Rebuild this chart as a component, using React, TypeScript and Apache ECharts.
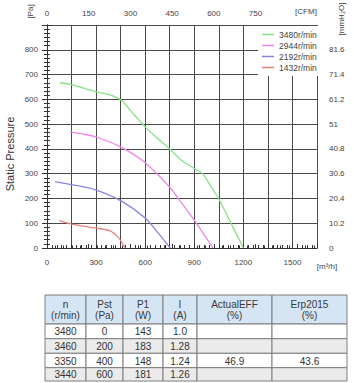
import React, { useEffect, useRef } from 'react';
import * as echarts from 'echarts';

// ---- chart data ----
const speedNames = ['3480r/min', '2944r/min', '2192r/min', '1432r/min'];
const speedColors = ['#86e186', '#ec86ec', '#8585e2', '#e68080'];

const flow3480 = [80, 150, 300, 385, 450, 530, 600, 680, 750, 820, 900, 950, 1000, 1050, 1120, 1200];
const pres3480 = [667, 659, 630, 618, 598, 540, 489, 440, 400, 355, 321, 300, 250, 198, 106, 0];

const flow2944 = [141, 220, 300, 450, 600, 750, 820, 902, 1014];
const pres2944 = [469, 460, 448, 408, 344, 245, 184, 110, 0];

const flow2192 = [49, 150, 300, 450, 600, 680, 753];
const pres2192 = [268, 256, 234, 191, 121, 60, 0];

const flow1432 = [75, 150, 300, 386, 437, 460, 478];
const pres1432 = [110, 96, 80, 69, 42, 20, 0];

const flows = [flow3480, flow2944, flow2192, flow1432];
const pressures = [pres3480, pres2944, pres2192, pres1432];

// axis ranges
const X_MAX = 1650; // m3/h
const X_STEP = 150;
const X_LABEL_STEP = 300;
const Y_MAX = 900; // Pa
const Y_STEP = 100;
const M3H_PER_CFM = 1.699;
const CFM_STEP = 150;
const MMH2O_PER_PA = 0.102;

// ---- table data ----
const tblHeaders = ['n\n(r/min)', 'Pst\n(Pa)', 'P1\n(W)', 'I\n(A)', 'ActualEFF\n(%)', 'Erp2015\n(%)'];
const tblN = ['3480', '3460', '3350', '3440'];
const tblPst = ['0', '200', '400', '600'];
const tblP1 = ['143', '183', '148', '181'];
const tblI = ['1.0', '1.28', '1.24', '1.26'];
const tblEff = ['', '', '46.9', ''];
const tblErp = ['', '', '43.6', ''];

// ---- layout ----
const FONT = 'Liberation Sans, Arial, Helvetica, sans-serif';
const colEdges = [45, 86, 123, 163, 197, 272, 347];
const rowEdges = [295, 324, 338.7, 353.3, 367.7, 381];

function buildTable(): any[] {
  const cols = [tblN, tblPst, tblP1, tblI, tblEff, tblErp];
  const els: any[] = [];
  for (let c = 0; c < cols.length; c++) {
    const x0 = colEdges[c];
    const w = colEdges[c + 1] - x0;
    els.push({
      type: 'rect',
      shape: { x: x0, y: rowEdges[0], width: w, height: rowEdges[1] - rowEdges[0] },
      style: { fill: '#d5e5f3', stroke: '#7f7f7f', lineWidth: 1 },
      z: 1,
    });
    els.push({
      type: 'text',
      x: x0 + w / 2,
      y: (rowEdges[0] + rowEdges[1]) / 2,
      z: 2,
      style: {
        text: tblHeaders[c],
        align: 'center',
        verticalAlign: 'middle',
        fontSize: 10,
        lineHeight: 11,
        fontFamily: FONT,
        fill: '#3a3a3a',
      },
    });
    for (let r = 0; r < tblN.length; r++) {
      const y0 = rowEdges[r + 1];
      const h = rowEdges[r + 2] - y0;
      els.push({
        type: 'rect',
        shape: { x: x0, y: y0, width: w, height: h },
        style: { fill: r % 2 === 1 ? '#ebebeb' : '#ffffff', stroke: '#7f7f7f', lineWidth: 1 },
        z: 1,
      });
      els.push({
        type: 'text',
        x: x0 + w / 2,
        y: y0 + h / 2 + 0.5,
        z: 2,
        style: {
          text: cols[c][r],
          align: 'center',
          verticalAlign: 'middle',
          fontSize: 10,
          fontFamily: FONT,
          fill: '#333',
        },
      });
    }
  }
  return els;
}

const axisLineStyle = { lineStyle: { color: '#333', width: 1 } };
const labelStyle = { fontSize: 8, color: '#444', fontFamily: FONT };
const gridLine = { show: true, lineStyle: { color: '#4a4a4a', width: 1 } };

const option: any = {
  animation: false,
  textStyle: { fontFamily: FONT },
  grid: { left: 47, top: 25, width: 270, height: 223, containLabel: false },
  legend: {
    data: speedNames,
    orient: 'vertical',
    left: 258,
    top: 26,
    backgroundColor: '#ffffff',
    padding: [4, 3, 4, 4],
    itemWidth: 12,
    itemHeight: 1.5,
    itemGap: 2,
    itemTextGap: 1,
    icon: 'rect',
    textStyle: { fontSize: 8.5, color: '#444', lineHeight: 8, fontFamily: FONT },
  },
  xAxis: [
    {
      type: 'value',
      position: 'bottom',
      min: 0,
      max: X_MAX,
      interval: X_STEP,
      axisLine: axisLineStyle,
      axisTick: { show: true, inside: true, length: 4, lineStyle: { color: '#333' } },
      minorTick: { show: true, splitNumber: 5, length: 3, lineStyle: { color: '#333' } },
      splitLine: gridLine,
      axisLabel: {
        ...labelStyle,
        margin: 10,
        formatter: (v: number) => (v % X_LABEL_STEP === 0 && v < X_MAX ? String(v) : ''),
      },
    },
    {
      type: 'value',
      position: 'top',
      min: 0,
      max: X_MAX / M3H_PER_CFM,
      interval: CFM_STEP,
      axisLine: axisLineStyle,
      axisTick: { show: true, inside: false, length: 4, lineStyle: { color: '#333' } },
      minorTick: { show: true, splitNumber: 5, length: 2.5, lineStyle: { color: '#333' } },
      splitLine: { show: false },
      axisLabel: {
        ...labelStyle,
        margin: 8,
        formatter: (v: number) => (v <= 750 ? String(v) : ''),
      },
    },
  ],
  yAxis: [
    {
      type: 'value',
      position: 'left',
      min: 0,
      max: Y_MAX,
      interval: Y_STEP,
      axisLine: { show: true, ...axisLineStyle },
      axisTick: { show: true, inside: false, length: 5, lineStyle: { color: '#333' } },
      minorTick: { show: true, splitNumber: 6, length: 3, lineStyle: { color: '#333' } },
      splitLine: gridLine,
      axisLabel: {
        ...labelStyle,
        margin: 9,
        formatter: (v: number) => (v >= Y_MAX ? '' : String(v)),
      },
    },
    {
      type: 'value',
      position: 'right',
      min: 0,
      max: Y_MAX * MMH2O_PER_PA,
      interval: Y_STEP * MMH2O_PER_PA,
      axisLine: { show: true, ...axisLineStyle },
      axisTick: { show: true, inside: false, length: 4, lineStyle: { color: '#333' } },
      minorTick: { show: true, splitNumber: 6, length: 3, lineStyle: { color: '#333' } },
      splitLine: { show: false },
      axisLabel: {
        ...labelStyle,
        margin: 12,
        formatter: (v: number) => (v >= Y_MAX * MMH2O_PER_PA - 1 ? '' : String(+v.toFixed(1))),
      },
    },
  ],
  series: speedNames.map((name, i) => ({
    name,
    type: 'line',
    xAxisIndex: 0,
    yAxisIndex: 0,
    smooth: 0.3,
    showSymbol: false,
    symbol: 'none',
    color: speedColors[i],
    lineStyle: { color: speedColors[i], width: 1.3 },
    data: flows[i].map((f, k) => [f, pressures[i][k]]),
    z: 3,
  })),
  graphic: [
    {
      type: 'text',
      x: 10,
      y: 154,
      rotation: Math.PI / 2,
      style: {
        text: 'Static Pressure',
        align: 'center',
        verticalAlign: 'middle',
        fontSize: 11,
        fontFamily: FONT,
        fill: '#333',
      },
    },
    {
      type: 'text',
      x: 30,
      y: 11.5,
      rotation: Math.PI / 2,
      style: { text: '[Pa]', align: 'center', verticalAlign: 'middle', fontSize: 8, fontFamily: FONT, fill: '#444' },
    },
    {
      type: 'text',
      x: 341,
      y: 19,
      rotation: Math.PI / 2,
      style: { text: '[mmH₂O]', align: 'center', verticalAlign: 'middle', fontSize: 8, fontFamily: FONT, fill: '#444' },
    },
    {
      type: 'text',
      x: 306,
      y: 11.5,
      style: { text: '[CFM]', align: 'center', verticalAlign: 'middle', fontSize: 8, fontFamily: FONT, fill: '#444' },
    },
    {
      type: 'text',
      x: 327,
      y: 266,
      style: { text: '[m³/h]', align: 'center', verticalAlign: 'middle', fontSize: 8, fontFamily: FONT, fill: '#444' },
    },
    ...buildTable(),
  ],
};

export default function App() {
  const ref = useRef<HTMLDivElement>(null);
  useEffect(() => {
    document.body.style.margin = '0';
    const chart = echarts.init(ref.current as HTMLDivElement, null, { renderer: 'svg' });
    chart.setOption(option);
    return () => chart.dispose();
  }, []);
  return <div ref={ref} style={{ width: 354, height: 383 }} />;
}
